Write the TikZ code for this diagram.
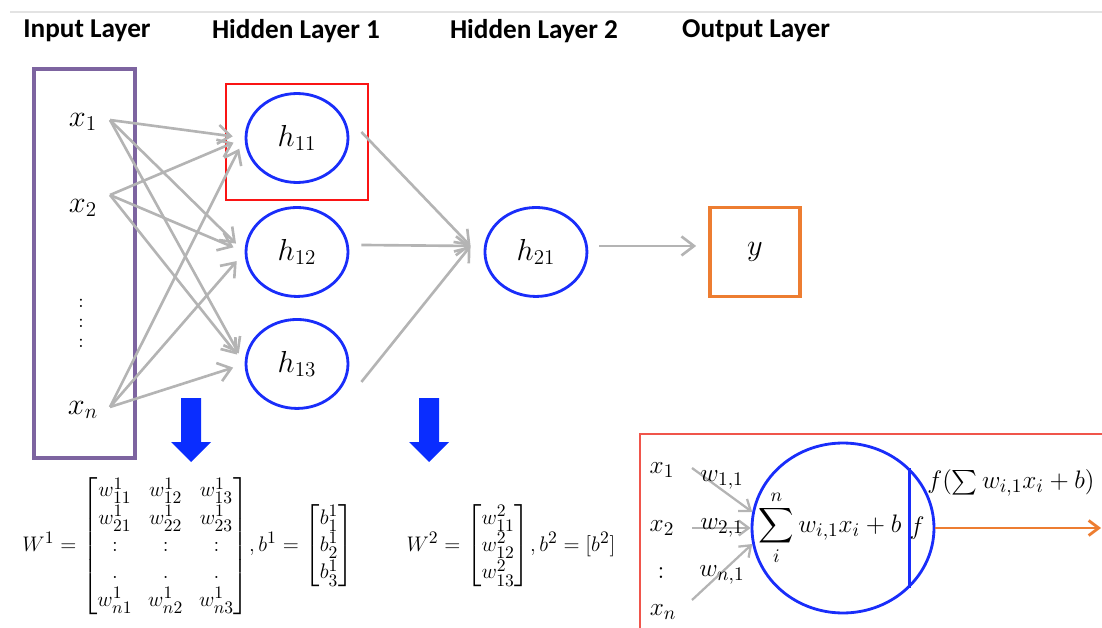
\documentclass[tikz,border=0pt]{standalone}
\usepackage{amsmath}
\usepackage{amssymb}
\usepackage{fontspec}
\newfontfamily\headfont{Carlito}
\usepackage{xcolor}
\usetikzlibrary{positioning,shapes.geometric,arrows.meta}
\DeclareMathSizes{13}{13}{10}{8}
\DeclareMathSizes{14}{14}{10.5}{8.5}
\DeclareMathSizes{16}{16}{12}{10}

\definecolor{linegray}{RGB}{180,180,180}
\definecolor{nodeblue}{RGB}{25,45,250}
\definecolor{arrowblue}{RGB}{10,45,255}
\definecolor{inpurple}{RGB}{125,100,160}
\definecolor{outorange}{RGB}{237,125,49}
\definecolor{boxred}{RGB}{250,20,20}
\definecolor{panelred}{RGB}{240,85,75}

\begin{document}
\begin{tikzpicture}
			[x=0.02cm,y=-0.02cm,node distance=2.28cm,on grid,
			neuron/.style={ellipse,draw=nodeblue,line width=1.6pt,minimum width=2.04cm,minimum height=1.78cm,inner sep=0pt,font=\fontsize{16}{18}\selectfont},
			conn/.style={draw=linegray,line width=1.5pt,-{Straight Barb[length=2.5mm,width=3.8mm]}},
			thinconn/.style={draw=linegray,line width=1.3pt,-{Straight Barb[length=2mm,width=3mm]}},
			title/.style={font=\headfont\bfseries\fontsize{15.5}{18}\selectfont},
			xin/.style={font=\fontsize{16}{18}\selectfont},
			vdot/.style={font=\fontsize{11}{13}\selectfont,inner sep=0pt},
			formula/.style={font=\fontsize{13}{15.6}\selectfont\setlength{\arraycolsep}{4.5pt}},
			cellmath/.style={font=\fontsize{14}{16.8}\selectfont,inner sep=1pt}]
			\useasboundingbox (0,0) rectangle (1102,628);
			\draw[gray!22,line width=0.8pt] (10,12) -- (1102,12);
			
			\node[title] (tin) at (87,31) {Input Layer};
			\node[title] (th1) at (296,31) {Hidden Layer 1};
			\node[title] (th2) at (534,31) {Hidden Layer 2};
			\node[title] (tout) at (756,31) {Output Layer};
			
			\node[draw=inpurple,line width=2pt,minimum width=2.02cm,minimum height=7.78cm] (inbox) at (84.5,263.5) {};
			\node[xin] (x1) at (83,122) {$x_1$};
			\node[xin] (x2) [below=1.72cm of x1] {$x_2$};
			\node[xin] (xn) at (83,410) {$x_n$};
			\foreach \i/\yy in {1/303,2/323,3/343}
				\node[vdot] (dot\i) at (81,\yy) {$:$};
			
			\node[neuron] (h11) at (297,138) {$h_{11}$};
			\node[neuron] (h12) [below=of h11] {$h_{12}$};
			\node[neuron] (h13) [below=2.24cm of h12] {$h_{13}$};
			\node[neuron] (h21) [right=4.78cm of h12] {$h_{21}$};
			\node[xin,draw=outorange,line width=2pt,minimum width=1.8cm,minimum height=1.78cm] (out) [right=4.38cm of h21] {$y$};
			\node[draw=boxred,line width=1.4pt,minimum width=2.84cm,minimum height=2.32cm] (sel) at (297,142) {};
			
			\coordinate (x1o) at (110,120);
			\coordinate (x2o) at (110,195);
			\coordinate (xno) at (110,407);
			\foreach \s in {x1o,x2o,xno}
				\foreach \t in {h11,h12,h13}
					\draw[conn,shorten >=0.24cm] (\s) -- (\t.west);
			\draw[conn] ([shift={(12,-6)}]h11.east) -- ([shift={(-13,-6)}]h21.west);
			\draw[conn] ([shift={(12,-7)}]h12.east) -- ([shift={(-13,-6)}]h21.west);
			\draw[conn] ([shift={(12,18)}]h13.east) -- ([shift={(-13,-6)}]h21.west);
			\draw[conn] ([shift={(11,-6)}]h21.east) -- ([shift={(-12,-6)}]out.west);
			
			\foreach \ax in {191,429}
				\fill[arrowblue] (\ax-10,398) -- ++(20,0) -- ++(0,44) -- ++(10,0) -- ++(-20,20) -- ++(-20,-20) -- ++(10,0) -- cycle;
			
			\node[formula] (wone) at (188,546) {$W^1=\begin{bmatrix}w^1_{11} & w^1_{12} & w^1_{13}\\ w^1_{21} & w^1_{22} & w^1_{23}\\ {:} & {:} & {:}\\ {.} & {.} & {.}\\ w^1_{n1} & w^1_{n2} & w^1_{n3}\end{bmatrix}\!,b^1=\begin{bmatrix}b^1_1\\ b^1_2\\ b^1_3\end{bmatrix}$};
			\node[formula] (wtwo) at (511,546) {$W^2=\begin{bmatrix}w^2_{11}\\ w^2_{12}\\ w^2_{13}\end{bmatrix}\!,b^2=[b^2]$};
			
			\draw[panelred,line width=1.4pt] (640,650) -- (640,434) -- (1120,434);
			\node[ellipse,draw=nodeblue,line width=1.6pt,minimum width=3.64cm,minimum height=3.4cm,inner sep=0pt] (cell) at (843,528) {};
			\draw[nodeblue,line width=1.6pt] (cell.42.5) -- (cell.-42.5);
			\node[cellmath] (sum) at (830,528) {$\displaystyle\sum_i^n w_{i,1}x_i+b$};
			\node[cellmath] (fn) at (917,528) {$f$};
			\node[cellmath] (p1) at (662,470) {$x_1$};
			\node[cellmath] (p2) at (662,528) {$x_2$};
			\node[cellmath] (pd) at (661,573) {$:$};
			\node[cellmath] (pn) at (663,612) {$x_n$};
			\coordinate (q1) at (692,468);
			\coordinate (q2) at (692,528);
			\coordinate (qn) at (692,600);
			\draw[thinconn] (q1) -- (cell.170.5);
			\draw[thinconn] (q2) -- (cell.west);
			\draw[thinconn] (qn) -- (cell.-170.5);
			\node[cellmath] (w11) at (722,480) {$w_{1,1}$};
			\node[cellmath] (w21) at (722,528) {$w_{2,1}$};
			\node[cellmath] (wn1) at (722,575) {$w_{n,1}$};
			\coordinate (yend) at (1101,528);
			\draw[outorange,line width=1.6pt,-{Straight Barb[length=2mm,width=3mm]}] (cell.east) -- (yend);
			\node[cellmath] (act) at (1011,483) {$f(\sum w_{i,1}x_i+b)$};
		\end{tikzpicture}
\end{document}
